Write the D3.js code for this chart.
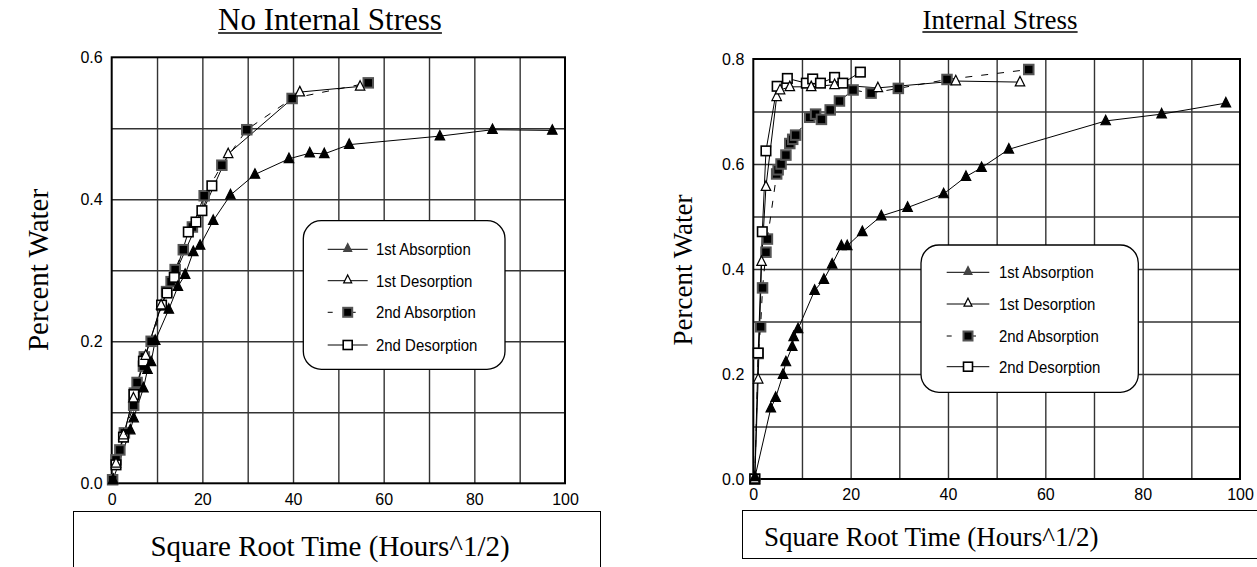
<!DOCTYPE html>
<html><head><meta charset="utf-8">
<script src="https://cdn.jsdelivr.net/npm/d3@7"></script>
<style>
body{margin:0;background:#fff;}
svg{display:block;}
.tick-label{font-family:"Liberation Sans",Arial,sans-serif;font-size:16px;fill:#000;}
.leg{font-family:"Liberation Sans",Arial,sans-serif;fill:#000;}
.serif{font-family:"Liberation Serif","Times New Roman",serif;fill:#000;}
</style></head>
<body>
<svg id="c" width="1257" height="567"></svg>
<script>
// ---------- DATA ----------
const seriesNames = ["1st Absorption","1st Desorption","2nd Absorption","2nd Desorption"];
const xTicks = [0,20,40,60,80,100];

// Left chart: No Internal Stress  [sqrt(hours), percent water]
const noStress_abs1 = [[0.3,0.005],[4.1,0.075],[4.85,0.092],[7.0,0.134],[7.9,0.160],[8.7,0.171],[9.6,0.201],[12.6,0.245],[14.6,0.277],[16.2,0.294],[18.0,0.326],[19.5,0.335],[22.4,0.370],[26.2,0.406],[31.6,0.435],[39.1,0.457],[43.7,0.465],[46.9,0.464],[52.4,0.477],[72.4,0.489],[84.0,0.498],[97.2,0.497]];
const noStress_des1 = [[0.95,0.028],[2.6,0.068],[4.8,0.120],[7.5,0.180],[10.9,0.251],[25.7,0.464],[41.5,0.551],[54.8,0.559]];
const noStress_abs2 = [[0.2,0.005],[0.95,0.033],[1.8,0.047],[2.8,0.071],[4.85,0.110],[5.0,0.127],[5.6,0.142],[7.0,0.165],[7.2,0.178],[8.7,0.200],[12.1,0.270],[13.1,0.284],[14.0,0.301],[15.8,0.329],[17.8,0.361],[20.4,0.405],[24.3,0.448],[29.8,0.498],[39.8,0.542],[56.6,0.564]];
const noStress_des2 = [[0.95,0.026],[2.6,0.065],[4.9,0.125],[7.0,0.172],[11.0,0.251],[12.2,0.268],[13.8,0.290],[16.9,0.354],[18.6,0.368],[19.9,0.384],[22.1,0.419]];

// Right chart: Internal Stress
const stress_abs1 = [[0.35,0.004],[3.6,0.135],[4.6,0.155],[6.1,0.199],[6.7,0.223],[8.0,0.252],[8.3,0.271],[9.2,0.286],[12.6,0.359],[14.5,0.380],[16.2,0.409],[18.1,0.444],[19.3,0.444],[22.4,0.471],[26.3,0.501],[31.7,0.517],[39.1,0.543],[43.7,0.576],[46.9,0.593],[52.5,0.628],[72.4,0.682],[83.9,0.695],[97.1,0.716]];
const stress_des1 = [[0.3,0.0],[1.0,0.19],[1.7,0.414],[2.6,0.557],[4.8,0.728],[5.5,0.741],[7.5,0.747],[11.9,0.747],[16.7,0.751],[25.6,0.745],[41.6,0.758],[54.8,0.756]];
const stress_abs2 = [[0.3,0.0],[1.0,0.239],[1.5,0.290],[1.9,0.364],[2.6,0.432],[2.9,0.457],[4.8,0.581],[5.1,0.589],[5.7,0.600],[6.7,0.617],[7.5,0.639],[8.1,0.647],[8.7,0.655],[11.6,0.689],[12.8,0.695],[14.0,0.685],[15.8,0.703],[17.7,0.720],[20.5,0.741],[24.2,0.735],[29.8,0.744],[39.8,0.761],[56.6,0.780]];
const stress_des2 = [[0.3,0.0],[1.0,0.24],[1.85,0.471],[2.6,0.625],[4.9,0.748],[7.0,0.763],[10.9,0.754],[12.2,0.762],[13.8,0.754],[16.7,0.765],[18.4,0.754],[22.0,0.775]];

const leftYTicks = [0,0.2,0.4,0.6];
const rightYTicks = [0,0.2,0.4,0.6,0.8];

// ---------- DRAW ----------
const svg = d3.select("#c");

const styles = [
  {marker:"tri", fill:"#000", stroke:"#000", dash:null},
  {marker:"tri", fill:"#fff", stroke:"#000", dash:null},
  {marker:"sq",  fill:"#000", stroke:"#555", dash:"7,9"},
  {marker:"sq",  fill:"#fff", stroke:"#000", dash:null}
];

function drawMarker(g, type, x, y, st, size){
  if(type==="tri"){
    const s=size;
    g.append("path").attr("d",`M${x},${y-s*0.6}L${x+s/2},${y+s*0.4}L${x-s/2},${y+s*0.4}Z`)
      .attr("fill",st.fill).attr("stroke",st.stroke).attr("stroke-width",1.2);
  } else {
    const s=size;
    g.append("rect").attr("x",x-s/2).attr("y",y-s/2).attr("width",s).attr("height",s)
      .attr("fill",st.fill).attr("stroke",st.stroke).attr("stroke-width",st.fill==="#000"?2:1.6);
  }
}

function drawChart(cfg){
  const x = d3.scaleLinear().domain([0,100]).range([cfg.x0,cfg.x1]);
  const y = d3.scaleLinear().domain([0,cfg.yMax]).range([cfg.y0,cfg.y1]);
  const g = svg.append("g");
  // grid
  const gx = d3.axisBottom(x).tickValues(d3.range(10,100,10)).tickSize(-(cfg.y0-cfg.y1)).tickFormat("");
  g.append("g").attr("transform",`translate(0,${cfg.y0})`).call(gx)
    .call(s=>s.select(".domain").remove())
    .call(s=>s.selectAll("line").attr("stroke","#333").attr("stroke-width",1.4));
  const gy = d3.axisLeft(y).tickValues(d3.range(0.1,cfg.yMax-0.05,0.1)).tickSize(-(cfg.x1-cfg.x0)).tickFormat("");
  g.append("g").attr("transform",`translate(${cfg.x0},0)`).call(gy)
    .call(s=>s.select(".domain").remove())
    .call(s=>s.selectAll("line").attr("stroke","#333").attr("stroke-width",1.4));
  // border
  g.append("rect").attr("x",cfg.x0).attr("y",cfg.y1).attr("width",cfg.x1-cfg.x0).attr("height",cfg.y0-cfg.y1)
    .attr("fill","none").attr("stroke","#000").attr("stroke-width",2);
  // tick labels
  const ax = d3.axisBottom(x).tickValues(xTicks).tickSize(0).tickPadding(10).tickFormat(d3.format("d"));
  g.append("g").attr("transform",`translate(0,${cfg.y0})`).call(ax)
    .call(s=>s.select(".domain").remove())
    .call(s=>s.selectAll("text").attr("class","tick-label").attr("font-size",null).attr("font-family",null));
  const ay = d3.axisLeft(y).tickValues(cfg.yTicks).tickSize(0).tickPadding(9).tickFormat(d3.format(".1f"));
  g.append("g").attr("transform",`translate(${cfg.x0},0)`).call(ay)
    .call(s=>s.select(".domain").remove())
    .call(s=>s.selectAll("text").attr("class","tick-label").attr("font-size",null).attr("font-family",null));

  // lines
  const line = d3.line().x(d=>x(d[0])).y(d=>y(d[1]));
  cfg.series.forEach((data,i)=>{
    g.append("path").datum(data).attr("d",line).attr("fill","none")
      .attr("stroke","#000").attr("stroke-width",1)
      .attr("stroke-dasharray",styles[i].dash);
  });
  // markers
  [2,3,1,0].forEach(i=>{
    cfg.series[i].forEach(d=>drawMarker(g,styles[i].marker,x(d[0]),y(d[1]),styles[i],9.5));
  });

  // legend
  const L=cfg.legend;
  g.append("rect").attr("x",L.x).attr("y",L.y).attr("width",L.w).attr("height",L.h).attr("rx",18).attr("ry",18)
    .attr("fill","#fff").attr("stroke","#000").attr("stroke-width",1.3);
  seriesNames.forEach((n,i)=>{
    const yy=L.rowY[i];
    const st=styles[i];
    if(i===2){
      g.append("line").attr("x1",L.lx0).attr("x2",L.lx0+5).attr("y1",yy).attr("y2",yy).attr("stroke","#000");
      g.append("line").attr("x1",(L.lx0+L.lx1)/2+3).attr("x2",(L.lx0+L.lx1)/2+8).attr("y1",yy).attr("y2",yy).attr("stroke","#000");
    } else {
      g.append("line").attr("x1",L.lx0).attr("x2",L.lx1).attr("y1",yy).attr("y2",yy).attr("stroke","#000");
    }
    const lst = i===0 ? {fill:"#444",stroke:"#444"} : st;
    drawMarker(g,st.marker,(L.lx0+L.lx1)/2,yy+(st.marker==="tri"?-1:0),lst,st.marker==="tri"?8:9);
    g.append("text").attr("class","leg").attr("x",L.tx).attr("y",yy+6).attr("font-size",L.fs)
      .attr("transform",`translate(${L.tx*(1-0.88)},0) scale(0.88,1)`).text(n);
  });

  // title
  const t = g.append("text").attr("class","serif").attr("x",cfg.titleX).attr("y",cfg.titleY)
    .attr("text-anchor","middle").attr("font-size",cfg.titleFs).text(cfg.title);
  const bb=t.node().getBBox();
  g.append("line").attr("x1",bb.x).attr("x2",bb.x+bb.width).attr("y1",cfg.titleY+3).attr("y2",cfg.titleY+3)
    .attr("stroke","#000").attr("stroke-width",1.5);
  // y title
  g.append("text").attr("class","serif").attr("transform",`translate(${cfg.yTitleX},${cfg.yTitleY}) rotate(-90)`)
    .attr("text-anchor","middle").attr("font-size",cfg.axFs).text("Percent Water");
  // x title box
  g.append("rect").attr("x",cfg.xBox[0]).attr("y",cfg.xBox[1]).attr("width",cfg.xBox[2]).attr("height",cfg.xBox[3])
    .attr("fill","none").attr("stroke","#000").attr("stroke-width",1);
  g.append("text").attr("class","serif").attr("x",cfg.xTitleX).attr("y",cfg.xTitleY)
    .attr("text-anchor",cfg.xAnchor).attr("font-size",cfg.axFs).text("Square Root Time (Hours^1/2)");
}

drawChart({
  x0:111.7,x1:565,y0:483.3,y1:57.3,yMax:0.6,yTicks:leftYTicks,
  series:[noStress_abs1,noStress_des1,noStress_abs2,noStress_des2],
  legend:{x:303.3,y:220.7,w:201.7,h:148.6,rowY:[249.3,280.7,312.3,345],lx0:327.7,lx1:367.7,tx:376,fs:17},
  title:"No Internal Stress",titleX:330,titleY:30,titleFs:31,
  yTitleX:48,yTitleY:270,axFs:29,
  xBox:[73.5,511.5,527,70],xTitleX:330,xTitleY:556,xAnchor:"middle"
});
drawChart({
  x0:753.3,x1:1240,y0:479,y1:59,yMax:0.8,yTicks:rightYTicks,
  series:[stress_abs1,stress_des1,stress_abs2,stress_des2],
  legend:{x:921,y:245,w:217.3,h:147.3,rowY:[272.3,304,336,366.7],lx0:946.7,lx1:989.3,tx:999,fs:17},
  title:"Internal Stress",titleX:1000,titleY:29,titleFs:27,
  yTitleX:692,yTitleY:270,axFs:27,
  xBox:[742.5,510.5,540,48],xTitleX:764,xTitleY:546,xAnchor:"start"
});
</script>
</body></html>
